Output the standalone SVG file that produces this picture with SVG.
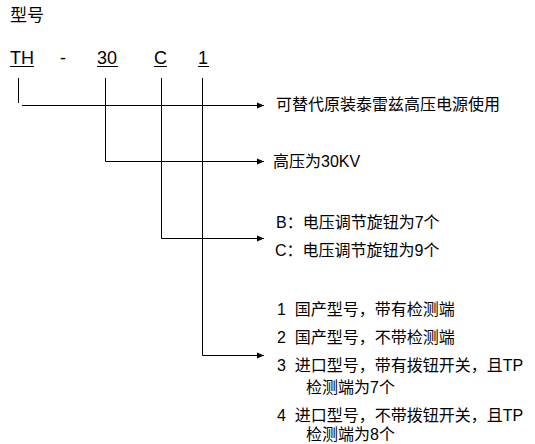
<svg xmlns="http://www.w3.org/2000/svg" width="535" height="444" viewBox="0 0 535 444">
<style>
  .t { font-family: "Liberation Sans", "Noto Sans CJK SC", sans-serif; font-size: 16px; fill: #000; white-space: pre; }
  .code { font-family: "Liberation Sans", Arial, sans-serif; font-size: 18px; fill: #000; }
  .ul { stroke: #000; stroke-width: 1; }
  .conn { fill: none; stroke: #000; stroke-width: 1; }
</style>
<defs>
  <marker id="arrow" markerUnits="userSpaceOnUse" markerWidth="8" markerHeight="8" refX="7" refY="3.5" orient="auto">
    <path d="M0,0.5 L7,3.5 L0,6.5 Z" fill="#000"/>
  </marker>
</defs>
<rect width="535" height="444" fill="#fff"/>

<g id="title">
  <text class="t" x="10" y="21" style="font-size:17px">型号</text>
</g>

<g id="code-TH">
  <text class="code" x="10" y="64">TH</text>
  <line class="ul" x1="10" y1="66.5" x2="34" y2="66.5"/>
</g>
<g id="code-dash">
  <text class="code" x="60" y="64">-</text>
</g>
<g id="code-30">
  <text class="code" x="97" y="64">30</text>
  <line class="ul" x1="97" y1="66.5" x2="118" y2="66.5"/>
</g>
<g id="code-C">
  <text class="code" x="154" y="64">C</text>
  <line class="ul" x1="154" y1="66.5" x2="167" y2="66.5"/>
</g>
<g id="code-1">
  <text class="code" x="198" y="64">1</text>
  <line class="ul" x1="198" y1="66.5" x2="209" y2="66.5"/>
</g>

<g id="connectors">
  <path class="conn" d="M18.5,78 V103"/>
  <path class="conn" d="M22,105.5 H264" marker-end="url(#arrow)"/>
  <path class="conn" d="M105.5,78 V161.5 H264" marker-end="url(#arrow)"/>
  <path class="conn" d="M161.5,78 V238.5 H264" marker-end="url(#arrow)"/>
  <path class="conn" d="M202.5,78 V355.5 H264" marker-end="url(#arrow)"/>
</g>

<g id="desc-TH">
  <text class="t" x="276" y="110">可替代原装泰雷兹高压电源使用</text>
</g>
<g id="desc-30">
  <text class="t" x="273" y="167">高压为30KV</text>
</g>
<g id="desc-C">
  <text class="t" x="276" y="228">B：电压调节旋钮为7个</text>
  <text class="t" x="275" y="256">C：电压调节旋钮为9个</text>
</g>
<g id="desc-1">
  <text class="t" x="277" y="315" xml:space="preserve">1  国产型号，带有检测端</text>
  <text class="t" x="277" y="343" xml:space="preserve">2  国产型号，不带检测端</text>
  <text class="t" x="277" y="371" xml:space="preserve">3  进口型号，带有拨钮开关，且TP</text>
  <text class="t" x="306" y="393">检测端为7个</text>
  <text class="t" x="277" y="421" xml:space="preserve">4  进口型号，不带拨钮开关，且TP</text>
  <text class="t" x="306" y="440">检测端为8个</text>
</g>
</svg>
